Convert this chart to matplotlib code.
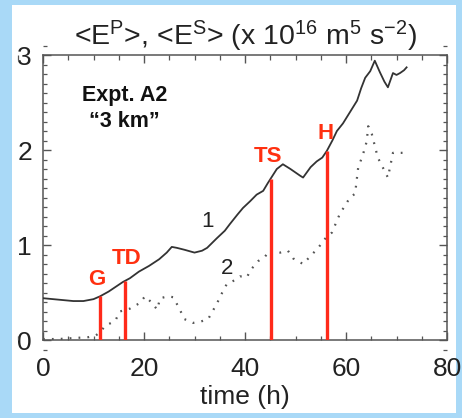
import numpy as np
import matplotlib
matplotlib.use("Agg")
import matplotlib.pyplot as plt
from matplotlib.patches import Rectangle
from matplotlib.ticker import MultipleLocator

plt.rcParams['font.family'] = ['Liberation Sans', 'DejaVu Sans']
plt.rcParams['mathtext.fontset'] = 'custom'
plt.rcParams['mathtext.rm'] = 'Liberation Sans'
plt.rcParams['mathtext.it'] = 'Liberation Sans:italic'

# ---- data ----
t1 = [0, 2, 4, 6, 8, 10, 11.3, 13, 15.8, 17.2, 19, 21, 23, 24.5, 25.5, 26.5, 28, 30,
      31.5, 32.5, 34.4, 36, 37, 38.5, 39.6, 41, 42.3, 43.6, 44.5, 45.1, 46.3, 47.5,
      49, 50.9, 51.5, 53, 54.2, 55.3, 56.2, 57.3, 58.2, 59.4, 60.8, 62.2, 63, 63.8,
      64.8, 65.7, 66.7, 67.6, 68.3, 69.3, 70, 70.7, 71.5, 72]
e1 = [0.44, 0.43, 0.42, 0.41, 0.41, 0.43, 0.46, 0.51, 0.61, 0.65, 0.72, 0.78, 0.85,
      0.92, 0.98, 0.97, 0.95, 0.92, 0.94, 0.97, 1.07, 1.15, 1.22, 1.32, 1.39, 1.46,
      1.53, 1.57, 1.65, 1.70, 1.80, 1.85, 1.80, 1.73, 1.71, 1.82, 1.88, 1.92, 1.99,
      2.10, 2.20, 2.28, 2.40, 2.52, 2.65, 2.76, 2.83, 2.94, 2.82, 2.72, 2.66, 2.81,
      2.79, 2.81, 2.84, 2.87]

t2 = [0, 3, 6, 9, 10.5, 11.3, 12.3, 14.3, 15.2, 17.2, 19.2, 20.2, 21.6, 22.6, 23.2,
      24.8, 25.8, 27, 28, 29.7, 31, 32.7, 34.4, 35.5, 36.4, 38, 39, 40.4, 41, 42.6,
      44, 45, 47, 48.5, 49.5, 51.5, 52.9, 54.5, 56.2, 57.2, 58.8, 60.8, 61.8, 62.4,
      63.4, 64.1, 64.4, 65.1, 66.3, 68.3, 69.3, 70.7, 72]
e2 = [0.01, 0.01, 0.02, 0.03, 0.05, 0.08, 0.15, 0.20, 0.30, 0.33, 0.39, 0.46, 0.39,
      0.32, 0.44, 0.46, 0.45, 0.33, 0.22, 0.18, 0.19, 0.22, 0.38, 0.50, 0.59, 0.63,
      0.67, 0.66, 0.73, 0.83, 0.88, 0.95, 0.92, 0.94, 0.86, 0.80, 0.88, 0.97, 1.09,
      1.13, 1.33, 1.50, 1.54, 1.81, 1.96, 2.09, 2.25, 2.17, 1.92, 1.71, 1.97, 1.97,
      1.97]

event_names = ['G', 'TD', 'TS', 'H']
event_times = [11.3, 16.3, 45.1, 56.2]
event_label_offsets = [(-3, 17), (1, 22), (-3, 22), (-1, 17)]  # pixels above line top

W, H = 462, 418
fig = plt.figure(figsize=(W / 100, H / 100), dpi=100, facecolor='#a9d9f7')

# white slide panel behind everything
fig.patches.append(Rectangle((12 / W, 5 / H), 444 / W, 408 / H,
                             transform=fig.transFigure, facecolor='white',
                             edgecolor='none', zorder=-10))

ax_w, ax_h = 404, 285
ax = fig.add_axes([43 / W, 1 - 340 / H, ax_w / W, ax_h / H])
ax.set_facecolor('white')

ax.plot(t1, e1, color='#333333', lw=1.3, zorder=3)
ax.plot(t2, e2, color='#555555', lw=1.6, linestyle=(0, (0.8, 3.2)), zorder=3)

tops = np.interp(event_times, t1, e1)
for name, tx, top, off in zip(event_names, event_times, tops, event_label_offsets):
    ax.plot([tx, tx], [0, top], color='#ff2a1a', lw=2.4, solid_capstyle='butt', zorder=4)
    ax.annotate(name, (tx, top), xytext=off, textcoords='offset pixels',
                ha='center', va='center', color='#ff3010', fontsize=16,
                fontweight='bold', zorder=5)

ax.text(32.5, 1.25, '1', fontsize=16, color='#222222', ha='center', va='center')
ax.text(36.5, 0.75, '2', fontsize=16, color='#222222', ha='center', va='center')
ax.text(7.8, 2.57, 'Expt. A2', fontsize=15.5, fontweight='bold', color='#111111',
        ha='left', va='center')
ax.text(9.2, 2.30, '\u201c3 km\u201d', fontsize=15.5, fontweight='bold', color='#111111',
        ha='left', va='center')

ax.set_xlim(0, 80)
ax.set_ylim(0, 3)
ax.xaxis.set_major_locator(MultipleLocator(20))
ax.xaxis.set_minor_locator(MultipleLocator(5))
ax.yaxis.set_major_locator(MultipleLocator(1))
ax.yaxis.set_minor_locator(MultipleLocator(0.1))
ax.tick_params(which='both', direction='in', length=0, labelsize=19,
               labelcolor='#222222')
ax.tick_params(axis='x', which='major', pad=12)
ax.tick_params(axis='y', which='major', pad=8)

# inward IDL-style ticks on all four sides, drawn from the axis locators
tick_col = '#555555'
xt = ax.get_xaxis_transform()
yt = ax.get_yaxis_transform()
for locs, length, lw in [(ax.xaxis.get_majorticklocs(), 8, 1.0),
                         (ax.xaxis.get_minorticklocs(), 4.5, 0.9)]:
    f = length / ax_h
    ax.vlines(locs, 0, f, transform=xt, color=tick_col, lw=lw, clip_on=False, zorder=2)
    ax.vlines(locs, 1 - f, 1, transform=xt, color=tick_col, lw=lw, clip_on=False, zorder=2)
for locs, length, lw in [(ax.yaxis.get_majorticklocs(), 8, 1.0),
                         (ax.yaxis.get_minorticklocs(), 4, 0.9)]:
    f = length / ax_w
    ax.hlines(locs, 0, f, transform=yt, color=tick_col, lw=lw, clip_on=False, zorder=2)
    ax.hlines(locs, 1 - f, 1, transform=yt, color=tick_col, lw=lw, clip_on=False, zorder=2)

for s in ax.spines.values():
    s.set_color('#555555')
    s.set_linewidth(1.1)

ax.set_xlabel('time (h)', fontsize=19, color='#222222', labelpad=3)
ax.set_title(r'<E$^{\rm P}$>, <E$^{\rm S}$> (x 10$^{16}$ m$^5$ s$^{-2}$)',
             fontsize=20.5, color='#222222', pad=7)

fig.savefig('out.png', dpi=100, facecolor=fig.get_facecolor())
